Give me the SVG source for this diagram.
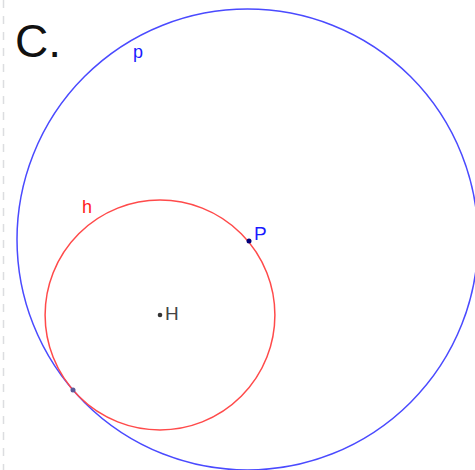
<svg xmlns="http://www.w3.org/2000/svg" width="475" height="470" viewBox="0 0 475 470">
<style>
.lbl{font-family:"Liberation Sans",Arial,sans-serif}
</style>
<rect width="475" height="470" fill="#fff"/>
<line x1="3.5" y1="0" x2="3.5" y2="470" stroke="#dcdde0" stroke-width="1.5" stroke-dasharray="8,8"/>
<text class="lbl" x="15" y="57" font-size="46" fill="#111">C.</text>
<g id="circle-p">
<circle cx="247.5" cy="239.5" r="230.5" fill="none" stroke="#4a4aff" stroke-width="1.5"/>
<text class="lbl" x="133" y="58" font-size="18" fill="#1a1aff">p</text>
</g>
<g id="circle-h">
<circle cx="160" cy="315" r="114.9" fill="none" stroke="#ff4a4a" stroke-width="1.5"/>
<text class="lbl" x="82" y="213" font-size="18" fill="#ff1a1a">h</text>
</g>
<g id="point-P">
<circle cx="249" cy="241" r="2.5" fill="#00007a"/>
<text class="lbl" x="254" y="240" font-size="19" fill="#1a1aff">P</text>
</g>
<g id="point-H">
<circle cx="160" cy="315" r="2.3" fill="#333"/>
<text class="lbl" x="165" y="320" font-size="19" fill="#444">H</text>
</g>
<g id="point-T">
<circle cx="73" cy="390" r="2.5" fill="#5a5a99"/>
</g>
<g id="connectors"></g>
</svg>
